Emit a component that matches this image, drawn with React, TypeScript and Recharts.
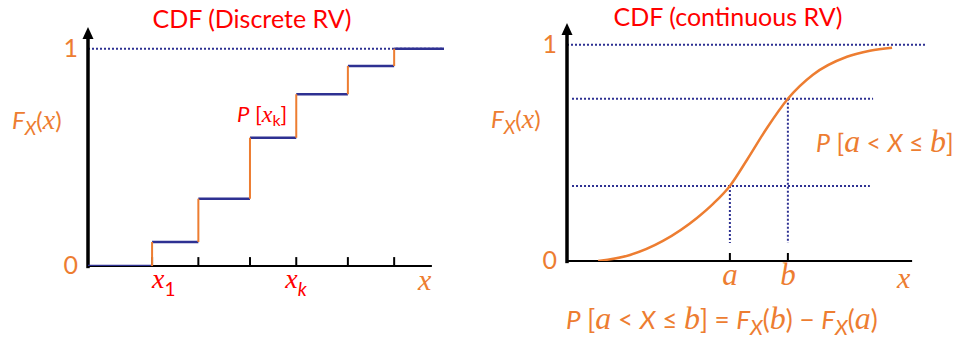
import React from 'react';
import { LineChart, Line, XAxis, YAxis, ReferenceLine, ReferenceDot } from 'recharts';

const ORANGE = '#ED7D31';
const NAVY = '#2E3192';
const RED = '#FF0000';
const SANS = "Lato, 'Open Sans', sans-serif";
const SERIF = "'Liberation Serif', 'DejaVu Serif', serif";

// discrete RV: jump points and the CDF level on each interval
const jumpX = [1.8, 3.1, 4.55, 5.85, 7.3, 8.6];
const stepLevels = [0, 0.11, 0.31, 0.59, 0.79, 0.92, 1];
const discreteStart = 0;
const discreteEnd = 10;
const discreteAxisEnd = 9.66;
const discreteLabels = ['x1', '', '', 'xk', '', ''];

// continuous RV: sampled CDF curve
const curveX = [0.87, 1.76, 2.68, 3.63, 4.08, 4.55, 5.03, 5.59, 6.17, 6.87, 7.82, 8.46, 9.08];
const curveF = [0, 0.028, 0.093, 0.199, 0.264, 0.347, 0.468, 0.616, 0.75, 0.861, 0.944, 0.972, 0.986];
const aIndex = 5;
const bIndex = 8;
const continuousAxisEnd = 9.64;
const guideStart = 0.14;
const guideEndB = 8.55;
const guideEndA = 8.46;
const dropBottom = 0.083;

const yTicks = [0, 1];
const yDomain = [0, 1.1];

// build broken series: each segment is two points followed by a gap
const flatSegments = stepLevels.map((lvl, i) => {
  const from = i === 0 ? discreteStart : jumpX[i - 1];
  const to = i === jumpX.length ? discreteEnd : jumpX[i];
  return [{ x: from, y: lvl }, { x: to, y: lvl }, { x: to, y: null }];
}).flat();

const jumpSegments = jumpX.map((x, i) => [
  { x, y: stepLevels[i] },
  { x, y: stepLevels[i + 1] },
  { x, y: null },
]).flat();

const curveData = curveX.map((x, i) => ({ x, F: curveF[i] }));
const aX = curveX[aIndex];
const bX = curveX[bIndex];
const Fa = curveF[aIndex];
const Fb = curveF[bIndex];

const Arrow = (props: any) => {
  const { cx, cy } = props;
  return <path d={`M${cx},${cy} L${cx - 5.5},${cy + 12} L${cx + 5.5},${cy + 12} Z`} fill="#000" />;
};

const YTick = (props: any) => {
  const { x, y, payload } = props;
  return (
    <text x={x} y={y} dy={8} textAnchor="end" fill={ORANGE} fontFamily={SANS} fontSize={25}>
      {payload.value}
    </text>
  );
};

const DiscreteTick = (props: any) => {
  const { x, y, index } = props;
  const label = discreteLabels[index];
  if (!label) return <g />;
  const dx = index === 0 ? 0 : -11;
  return (
    <text x={x + dx} y={y + 14} fill={RED} fontFamily={SERIF} fontStyle="italic" fontSize={28}>
      x
      <tspan fontFamily={SANS} fontStyle={index === 0 ? 'normal' : 'italic'} fontSize={19} dy={8}>
        {label.slice(1)}
      </tspan>
    </text>
  );
};

const ContinuousTick = (props: any) => {
  const { x, y, index } = props;
  return (
    <text x={x} y={y + 16} textAnchor="middle" fill={ORANGE} fontFamily={SERIF} fontStyle="italic" fontSize={31}>
      {index === 0 ? 'a' : 'b'}
    </text>
  );
};

const dotted = { stroke: NAVY, strokeWidth: 2, strokeDasharray: '2 2', ifOverflow: 'visible' as const };

function FLabel({ x, y, arg }: any) {
  return (
    <>
      <tspan x={x} y={y} fontStyle="italic">F</tspan>
      <tspan fontStyle="italic" fontSize={19} dy={6}>X</tspan>
      <tspan dy={-6}>(</tspan>
      <tspan fontFamily={SERIF} fontStyle="italic" fontSize={28}>{arg}</tspan>
      <tspan>)</tspan>
    </>
  );
}

function ProbExpr() {
  return (
    <>
      <tspan fontStyle="italic">P</tspan>
      <tspan> [</tspan>
      <tspan fontFamily={SERIF} fontStyle="italic" fontSize={32}>a</tspan>
      <tspan> &lt; </tspan>
      <tspan fontStyle="italic">X</tspan>
      <tspan> ≤ </tspan>
      <tspan fontFamily={SERIF} fontStyle="italic" fontSize={32}>b</tspan>
      <tspan>]</tspan>
    </>
  );
}

export default function App() {
  return (
    <div style={{ position: 'absolute', left: 0, top: 0, width: 958, height: 343, background: '#fff' }}>
      {/* discrete CDF */}
      <div style={{ position: 'absolute', left: 0, top: 0 }}>
        <LineChart width={480} height={343} margin={{ top: 27, right: 36, bottom: 37, left: 0 }}>
          <XAxis dataKey="x" type="number" domain={[0, 10]} ticks={jumpX} tickLine={false} axisLine={false}
            tick={<DiscreteTick />} height={40} allowDataOverflow />
          <YAxis type="number" domain={yDomain} ticks={yTicks} width={88} tickLine={false} axisLine={false}
            tick={<YTick />} tickMargin={4} allowDataOverflow />
          <ReferenceLine segment={[{ x: 0, y: 1 }, { x: discreteEnd, y: 1 }]} {...dotted} />
          {jumpX.map((x) => (
            <ReferenceLine key={x} segment={[{ x, y: 0 }, { x, y: 0.041 }]} stroke="#000" strokeWidth={2} ifOverflow="visible" />
          ))}
          <ReferenceLine segment={[{ x: 0, y: 0 }, { x: discreteAxisEnd, y: 0 }]} stroke="#000" strokeWidth={2} ifOverflow="visible" />
          <ReferenceLine segment={[{ x: 0, y: -0.01 }, { x: 0, y: 1.05 }]} stroke="#000" strokeWidth={3.5} ifOverflow="visible" />
          <ReferenceDot x={0} y={1.1} shape={<Arrow />} ifOverflow="visible" />
          <Line data={flatSegments} dataKey="y" type="linear" stroke={NAVY} strokeWidth={2.5} dot={false}
            connectNulls={false} isAnimationActive={false} />
          <Line data={jumpSegments} dataKey="y" type="linear" stroke={ORANGE} strokeWidth={2} dot={false}
            connectNulls={false} isAnimationActive={false} />
        </LineChart>
      </div>

      {/* continuous CDF */}
      <div style={{ position: 'absolute', left: 480, top: 0 }}>
        <LineChart width={478} height={343} data={curveData} margin={{ top: 23, right: 33, bottom: 42, left: 0 }}>
          <XAxis dataKey="x" type="number" domain={[0, 10]} ticks={[aX, bX]} tickLine={false} axisLine={false}
            tick={<ContinuousTick />} height={40} allowDataOverflow />
          <YAxis type="number" domain={yDomain} ticks={yTicks} width={87} tickLine={false} axisLine={false}
            tick={<YTick />} tickMargin={4} allowDataOverflow />
          <ReferenceLine segment={[{ x: 0, y: 1 }, { x: 10, y: 1 }]} {...dotted} />
          <ReferenceLine segment={[{ x: guideStart, y: Fb }, { x: guideEndB, y: Fb }]} {...dotted} />
          <ReferenceLine segment={[{ x: guideStart, y: Fa }, { x: guideEndA, y: Fa }]} {...dotted} />
          <ReferenceLine segment={[{ x: aX, y: Fa }, { x: aX, y: dropBottom }]} {...dotted} />
          <ReferenceLine segment={[{ x: bX, y: Fb }, { x: bX, y: dropBottom }]} {...dotted} />
          {[aX, bX].map((x) => (
            <ReferenceLine key={x} segment={[{ x, y: 0 }, { x, y: 0.037 }]} stroke="#000" strokeWidth={2} ifOverflow="visible" />
          ))}
          <ReferenceLine segment={[{ x: 0, y: 0 }, { x: continuousAxisEnd, y: 0 }]} stroke="#000" strokeWidth={2} ifOverflow="visible" />
          <ReferenceLine segment={[{ x: 0, y: -0.01 }, { x: 0, y: 1.05 }]} stroke="#000" strokeWidth={3.5} ifOverflow="visible" />
          <ReferenceDot x={0} y={1.1} shape={<Arrow />} ifOverflow="visible" />
          <Line dataKey="F" type="monotone" stroke={ORANGE} strokeWidth={2.5} dot={false} isAnimationActive={false} />
        </LineChart>
      </div>

      {/* titles and annotations */}
      <svg width={958} height={343} style={{ position: 'absolute', left: 0, top: 0, pointerEvents: 'none' }}>
        <text x={252} y={28} textAnchor="middle" fill={RED} fontFamily={SANS} fontSize={25}>CDF (Discrete RV)</text>
        <text x={728} y={26} textAnchor="middle" fill={RED} fontFamily={SANS} fontSize={25}>CDF (continuous RV)</text>

        <text fill={ORANGE} fontFamily={SANS} fontSize={24}><FLabel x={12} y={129} arg="x" /></text>
        <text fill={ORANGE} fontFamily={SANS} fontSize={24}><FLabel x={491} y={128} arg="x" /></text>

        <text x={237} y={122} fill={RED} fontFamily={SANS} fontSize={22}>
          <tspan fontStyle="italic">P</tspan>
          <tspan> [</tspan>
          <tspan fontFamily={SERIF} fontStyle="italic" fontSize={24}>x</tspan>
          <tspan fontSize={16} dy={4}>k</tspan>
          <tspan dy={-4}>]</tspan>
        </text>

        <text x={418} y={290} fill={ORANGE} fontFamily={SERIF} fontStyle="italic" fontSize={30}>x</text>
        <text x={897} y={288} fill={ORANGE} fontFamily={SERIF} fontStyle="italic" fontSize={30}>x</text>

        <text x={816} y={152} fill={ORANGE} fontFamily={SANS} fontSize={25}><ProbExpr /></text>
        <text x={566} y={329} fill={ORANGE} fontFamily={SANS} fontSize={26}>
          <ProbExpr />
          <tspan> = </tspan>
          <tspan fontStyle="italic">F</tspan>
          <tspan fontStyle="italic" fontSize={21} dy={6}>X</tspan>
          <tspan dy={-6}>(</tspan>
          <tspan fontFamily={SERIF} fontStyle="italic" fontSize={32}>b</tspan>
          <tspan>) − </tspan>
          <tspan fontStyle="italic">F</tspan>
          <tspan fontStyle="italic" fontSize={21} dy={6}>X</tspan>
          <tspan dy={-6}>(</tspan>
          <tspan fontFamily={SERIF} fontStyle="italic" fontSize={32}>a</tspan>
          <tspan>)</tspan>
        </text>
      </svg>
    </div>
  );
}
